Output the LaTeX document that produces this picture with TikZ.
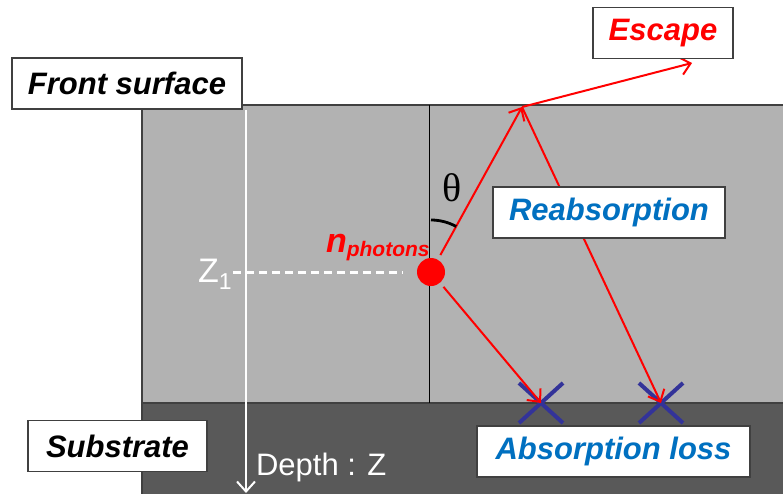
\documentclass[tikz,border=0pt]{standalone}
\usepackage{fontspec}
\setmainfont{Liberation Sans}
\newfontfamily\thetafont{Liberation Serif}
\usetikzlibrary{arrows.meta,shapes.misc}

\definecolor{layergray}{RGB}{178,178,178}
\definecolor{substrategray}{RGB}{89,89,89}
\definecolor{labelblue}{RGB}{0,112,192}
\definecolor{crossblue}{RGB}{51,51,153}

\begin{document}
\begin{tikzpicture}[
  x=0.5pt,y=-0.5pt,
  >={Straight Barb[length=5pt,width=9pt]},
  labelbox/.style={draw=black!75,fill=white,line width=0.6pt,inner sep=0pt,
                   minimum height=25.5pt,
                   font=\fontsize{15.5}{18}\selectfont\bfseries\itshape},
  ray/.style={->,red,line width=1pt},
  hit/.style={cross out,draw=crossblue,line width=2pt,
              minimum width=20pt,minimum height=18pt,inner sep=0pt}
]
\useasboundingbox (0,0) rectangle (783,494);

% layers
\fill[layergray] (142,105) rectangle (783,403);
\fill[substrategray] (142,403) rectangle (783,494);
\draw[black!75,line width=0.6pt] (783,105) -- (142,105) -- (142,494);
\draw[black!75,line width=0.6pt] (142,403) -- (783,403);
\draw[black,line width=0.5pt] (429,105) -- (429,403);

% depth axis
\coordinate (depthtop) at (246,110);
\coordinate (depthend) at (246,493);
\draw[->,white,line width=1pt] (depthtop) -- (depthend);
\node[anchor=west,white,font=\fontsize{15.5}{17}\selectfont] (depth) at (249,467)
  {Depth : Z};

% emission point
\node[circle,fill=red,inner sep=0pt,minimum size=14pt] (dot) at (431,272) {};
\node[anchor=base west,white,font=\fontsize{17}{18}\selectfont] (zlab) at (191,282)
  {Z\raisebox{-3.5pt}{\fontsize{11.5}{12}\selectfont 1}};
\coordinate (zstart) at (233,272);
\coordinate (zend) at (403,272);
\draw[white,line width=1.5pt,dash pattern=on 4pt off 2.5pt] (zstart) -- (zend);
\node[anchor=base east,red,inner sep=0pt,font=\bfseries\itshape] (nph) at (430,252)
  {\fontsize{17}{18}\selectfont n\raisebox{-2pt}{\fontsize{10.5}{12}\selectfont photons}};

% photon paths
\coordinate (bounce) at (522,107);
\coordinate (out) at (692,63);
\node[hit] (lossA) at (541,403) {};
\node[hit] (lossB) at (661,403) {};
\draw[ray,shorten <=2.5pt] (dot) -- (bounce);
\draw[ray] (bounce) -- (out);
\draw[ray] (bounce) -- (lossB.center);
\draw[ray,shorten <=2.5pt] (dot) -- (lossA.center);

% angle
\draw[black,line width=1.4pt] (431,220) arc[start angle=-90,end angle=-61,radius=52];
\node[font=\thetafont\fontsize{20}{21}\selectfont] (theta) at (452,188) {θ};

% labels
\node[labelbox,minimum width=115pt] (front) at (127,83.5) {Front surface};
\node[labelbox,minimum width=70pt,text=red] (escape) at (663,33) {Escape};
\node[labelbox,minimum width=116pt,text=labelblue] (reabs) at (609,212.5) {Reabsorption};
\node[labelbox,minimum width=136.5pt,text=labelblue] (absloss) at (613.5,451.5) {Absorption loss};
\node[labelbox,minimum width=89.5pt] (substrate) at (117.5,446) {Substrate};
\end{tikzpicture}
\end{document}
